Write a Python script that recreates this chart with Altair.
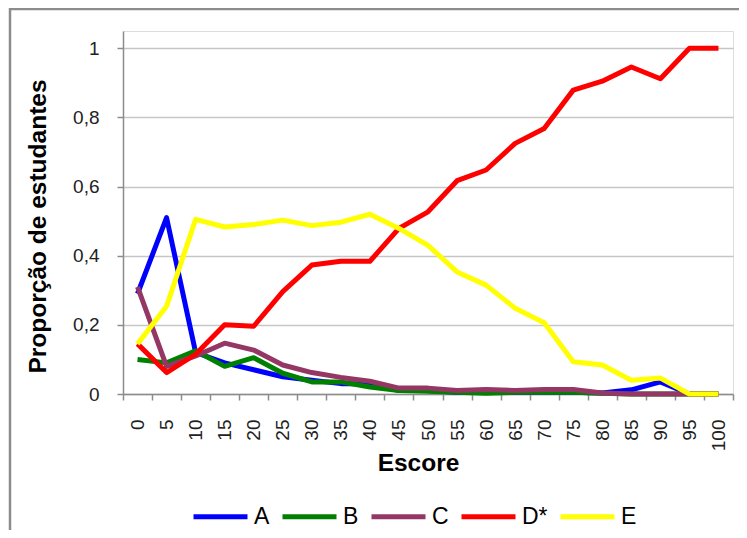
import altair as alt
import pandas as pd

escore = ["0", "5", "10", "15", "20", "25", "30", "35", "40", "45", "50",
          "55", "60", "65", "70", "75", "80", "85", "90", "95", "100"]

serie_a = [0.29, 0.51, 0.12, 0.09, 0.07, 0.05, 0.04, 0.03, 0.03, 0.01, 0.01,
           0.005, 0.005, 0.005, 0.005, 0.005, 0.003, 0.012, 0.035, 0.0, 0.0]
serie_b = [0.10, 0.09, 0.125, 0.08, 0.105, 0.06, 0.035, 0.035, 0.02, 0.01, 0.008,
           0.005, 0.002, 0.005, 0.005, 0.005, 0.002, 0.0, 0.0, 0.0, 0.0]
serie_c = [0.31, 0.08, 0.11, 0.147, 0.127, 0.084, 0.062, 0.048, 0.037, 0.017, 0.017,
           0.01, 0.013, 0.01, 0.013, 0.013, 0.003, 0.0, 0.0, 0.0, 0.0]
serie_d = [0.145, 0.062, 0.115, 0.2, 0.196, 0.296, 0.373, 0.384, 0.384, 0.479, 0.527,
           0.617, 0.648, 0.725, 0.768, 0.879, 0.905, 0.946, 0.912, 1.0, 1.0]
serie_e = [0.145, 0.254, 0.505, 0.483, 0.49, 0.503, 0.487, 0.497, 0.52, 0.479, 0.43,
           0.353, 0.315, 0.248, 0.206, 0.093, 0.084, 0.04, 0.046, 0.0, 0.0]

series_names = ["A", "B", "C", "D*", "E"]
series_colors = ["#0000FF", "#008000", "#953764", "#FF0000", "#FFFF00"]
y_ticks = [0, 0.2, 0.4, 0.6, 0.8, 1.0]

rows = []
for name, vals in zip(series_names, [serie_a, serie_b, serie_c, serie_d, serie_e]):
    for x, v in zip(escore, vals):
        rows.append({"Escore": x, "valor": v, "serie": name, "ordem": series_names.index(name)})
df = pd.DataFrame(rows)

FONT = "Liberation Sans"

lines = alt.Chart(df).mark_line(strokeWidth=5, strokeJoin="round").encode(
    x=alt.X(
        "Escore:O",
        sort=escore,
        bandPosition=0.5,
        scale=alt.Scale(type="band", paddingInner=0, paddingOuter=0),
        axis=alt.Axis(
            title="Escore",
            labelAngle=-90,
            labelPadding=19,
            labelFontSize=19,
            labelFont=FONT,
            labelColor="#222222",
            tickBand="extent",
            tickSize=6,
            tickColor="#8c8c8c",
            tickWidth=1.5,
            domainColor="#8c8c8c",
            domainWidth=1.5,
            grid=False,
            titleFont=FONT,
            titleFontSize=24.5,
            titleFontWeight="bold",
            titleColor="#000000",
            titleX=295,
            titleY=57,
            titleBaseline="top",
            titleAlign="center",
        ),
    ),
    y=alt.Y(
        "valor:Q",
        scale=alt.Scale(domain=[0, 1.05], nice=False, zero=True),
        axis=alt.Axis(
            title="Proporção de estudantes",
            values=y_ticks,
            labelExpr="replace(format(datum.value, '.1~f'), '.', ',')",
            labelPadding=18,
            labelFontSize=19,
            labelFont=FONT,
            labelColor="#222222",
            tickSize=6,
            tickColor="#8c8c8c",
            tickWidth=1.5,
            domainColor="#8c8c8c",
            domainWidth=1.5,
            grid=True,
            gridColor="#c6c6c6",
            gridWidth=1.5,
            titleFont=FONT,
            titleFontSize=24.5,
            titleFontWeight="bold",
            titleColor="#000000",
            titleAngle=270,
            titleX=-85,
            titleY=195,
            titleBaseline="middle",
            titleAlign="center",
        ),
    ),
    color=alt.Color(
        "serie:N",
        scale=alt.Scale(domain=series_names, range=series_colors),
        legend=alt.Legend(
            title=None,
            orient="none",
            direction="horizontal",
            legendX=68,
            legendY=456,
            symbolType="stroke",
            symbolSize=2916,
            symbolStrokeWidth=5,
            labelFont=FONT,
            labelFontSize=23,
            labelColor="#000000",
            labelOffset=4,
            columnPadding=2,
            padding=0,
        ),
    ),
    order=alt.Order("ordem:Q"),
)

frame = alt.Chart(pd.DataFrame({"f": [0]})).mark_rect(
    fill="transparent", stroke="#8c8c8c", strokeWidth=2.5
).encode(
    x=alt.value(-113),
    x2=alt.value(800),
    y=alt.value(-22),
    y2=alt.value(600),
)

chart = alt.layer(frame, lines).properties(
    width=610,
    height=363,
    autosize=alt.AutoSizeParams(type="none"),
    padding={"left": 115, "top": 23, "right": 6, "bottom": 136},
).configure_view(strokeWidth=0).configure(background="white")

chart.save("out.html", embed_options={"renderer": "svg", "actions": False})
